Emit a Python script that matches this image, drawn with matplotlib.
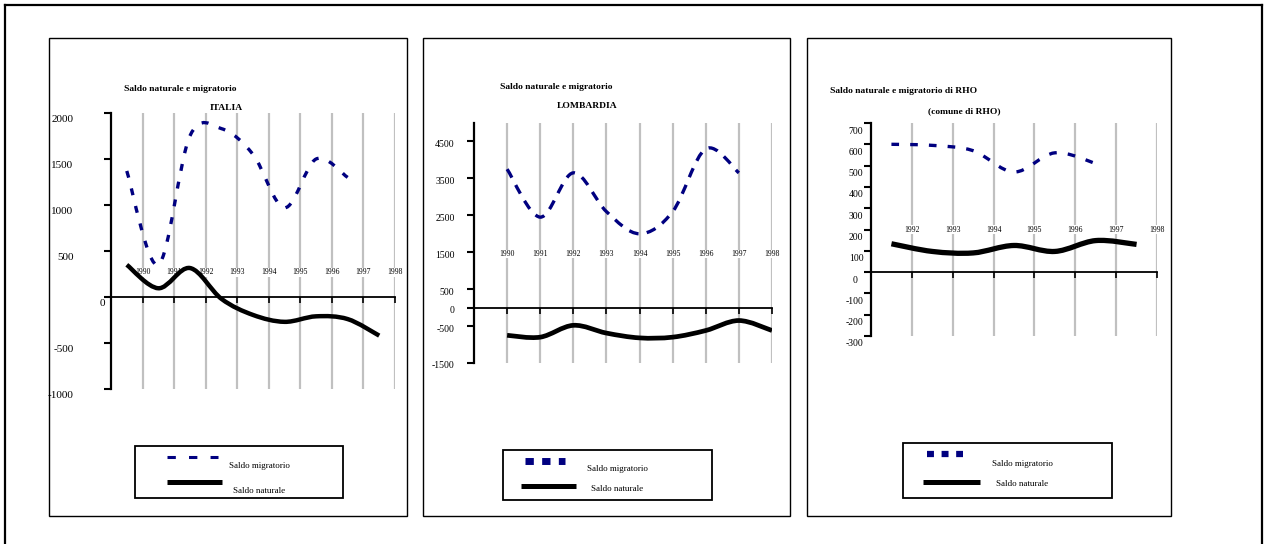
import matplotlib
matplotlib.use("Agg")
import matplotlib.pyplot as plt
import numpy as np
from matplotlib.lines import Line2D
from matplotlib.patches import PathPatch, Rectangle
from matplotlib.path import Path
from matplotlib.transforms import ScaledTranslation

plt.rcParams["font.family"] = ["Liberation Serif", "DejaVu Serif"]
plt.rcParams["lines.scale_dashes"] = False

W, H = 1265, 544
NAVY = "#000080"
GRID = "#c0c0c0"

# ITALIA
ITALIA_YEARS = ["1990", "1991", "1992", "1993", "1994", "1995", "1996", "1997", "1998"]
ITALIA_MIGR = [1370, 350, 1750, 1830, 1550, 970, 1500, 1300]
ITALIA_NAT = [350, 95, 315, -20, -195, -270, -210, -240, -420]
ITALIA_TICKS = [2000, 1500, 1000, 500, 0, -500, -1000]

# LOMBARDIA
LOMB_YEARS = ["1990", "1991", "1992", "1993", "1994", "1995", "1996", "1997", "1998"]
LOMB_MIGR = [3750, 2450, 3650, 2600, 2000, 2600, 4300, 3650]
LOMB_NAT = [-750, -800, -480, -690, -820, -800, -620, -350, -620]
LOMB_TICKS = [4500, 3500, 2500, 1500, 500, 0, -500, -1500]

# RHO
RHO_YEARS = ["1992", "1993", "1994", "1995", "1996", "1997", "1998"]
RHO_MIGR = [600, 595, 570, 470, 560, 510]
RHO_NAT = [133, 97, 90, 125, 97, 148, 130]
RHO_TICKS = [700, 600, 500, 400, 300, 200, 100, 0, -100, -200, -300]


def fx(px):
    return px / W


def fy(py):
    return 1 - py / H


def px_offset(fig, dx, dy):
    return ScaledTranslation(dx / 100, -dy / 100, fig.dpi_scale_trans)


def smooth_path(xs, ys):
    # Catmull-Rom style bezier through the points (Excel "smoothed line")
    pts = np.column_stack([xs, ys]).astype(float)
    verts = [pts[0]]
    codes = [Path.MOVETO]
    for i in range(len(pts) - 1):
        p0 = pts[max(i - 1, 0)]
        p1 = pts[i]
        p2 = pts[i + 1]
        p3 = pts[min(i + 2, len(pts) - 1)]
        verts += [p1 + (p2 - p0) / 6, p2 - (p3 - p1) / 6, p2]
        codes += [Path.CURVE4] * 3
    return Path(verts, codes)


def add_curve(ax, values, color, lw, dashes=None, zorder=4):
    xs = np.arange(len(values))
    patch = PathPatch(
        smooth_path(xs, values),
        facecolor="none",
        edgecolor=color,
        linewidth=lw,
        linestyle=(0, dashes) if dashes else "-",
        capstyle="butt",
        joinstyle="round",
        zorder=zorder,
    )
    ax.add_patch(patch)


def setup_axes(fig, box, xlim, ylim, grid_x, yticks, tick_size, label_pad, label_dy, zero_dx):
    left, top, right, bottom = box
    ax = fig.add_axes([fx(left), fy(bottom), fx(right - left), (bottom - top) / H])
    ax.set_xlim(*xlim)
    ax.set_ylim(*ylim)
    ax.patch.set_alpha(0)
    for side in ["top", "right"]:
        ax.spines[side].set_visible(False)
    ax.spines["bottom"].set_position(("data", 0))
    ax.spines["bottom"].set_linewidth(1.3)
    ax.spines["left"].set_linewidth(1.6)
    ax.vlines(grid_x, ylim[0], ylim[1], color=GRID, linewidth=1.6, zorder=1)
    ax.set_xticks(grid_x)
    ax.set_xticklabels([])
    ax.tick_params(axis="x", direction="out", length=4, width=1.2)
    ax.set_yticks(yticks)
    ax.set_yticklabels([str(v) for v in yticks])
    ax.tick_params(axis="y", direction="out", length=5, width=1.5,
                   pad=label_pad, labelsize=tick_size)
    for value, label in zip(yticks, ax.get_yticklabels()):
        dx = zero_dx if value == 0 else 0
        label.set_transform(label.get_transform() + px_offset(fig, dx, label_dy))
    return ax


def add_years(ax, positions, years, y):
    for x, year in zip(positions, years):
        ax.text(x, y, year, ha="center", va="center", fontsize=5.5, zorder=2,
                bbox=dict(facecolor="white", edgecolor="none", pad=0.3))


def add_panel(fig, box):
    left, top, right, bottom = box
    fig.add_artist(Rectangle((fx(left), fy(bottom)), fx(right - left), (bottom - top) / H,
                             transform=fig.transFigure, facecolor="none",
                             edgecolor="black", linewidth=1.0))


def add_title(fig, line1, x1, y1, line2, x2, y2):
    fig.text(fx(x1), fy(y1), line1, ha="center", va="center",
             fontsize=6.8, fontweight="bold")
    fig.text(fx(x2), fy(y2), line2, ha="center", va="center",
             fontsize=6.8, fontweight="bold")


def add_legend(fig, box, migr_line, nat_line, text_x, migr_y, nat_y, migr_style):
    left, top, right, bottom = box
    fig.add_artist(Rectangle((fx(left), fy(bottom)), fx(right - left), (bottom - top) / H,
                             transform=fig.transFigure, facecolor="white",
                             edgecolor="black", linewidth=1.3))
    (mx0, mx1, my), (nx0, nx1, ny) = migr_line, nat_line
    lw, dashes = migr_style
    fig.add_artist(Line2D([fx(mx0), fx(mx1)], [fy(my), fy(my)], transform=fig.transFigure,
                          color=NAVY, linewidth=lw, linestyle=(0, dashes),
                          dash_capstyle="butt"))
    fig.add_artist(Line2D([fx(nx0), fx(nx1)], [fy(ny), fy(ny)], transform=fig.transFigure,
                          color="black", linewidth=3.6, solid_capstyle="butt"))
    fig.text(fx(text_x), fy(migr_y), "Saldo migratorio", ha="center", va="center", fontsize=6.5)
    fig.text(fx(text_x), fy(nat_y), "Saldo naturale", ha="center", va="center", fontsize=6.5)


fig = plt.figure(figsize=(W / 100, H / 100), dpi=100)

# outer frame
for xs, ys in [((5, 1262), (5, 5)), ((5, 5), (5, 544)), ((1262, 1262), (5, 544))]:
    fig.add_artist(Line2D([fx(x) for x in xs], [fy(y) for y in ys],
                          transform=fig.transFigure, color="black", linewidth=1.6))

# ---- ITALIA ----
add_panel(fig, (49, 38, 407, 516))
n = len(ITALIA_YEARS)
grid = np.arange(n) + 0.5
ax = setup_axes(fig, (111, 113, 395, 389), (-0.5, n - 0.5), (-1000, 2000), grid,
                ITALIA_TICKS, 8, 22, 5, 32)
add_years(ax, grid, ITALIA_YEARS, 270)
add_curve(ax, ITALIA_MIGR, NAVY, 2.4, (5, 8))
add_curve(ax, ITALIA_NAT, "black", 3.2)
add_title(fig, "Saldo naturale e migratorio", 180, 89, "ITALIA", 226, 108)
add_legend(fig, (135, 446, 343, 498), (167, 218, 457), (167, 222, 482), 259, 466, 491,
           (2.2, (6, 9.5)))

# ---- LOMBARDIA ----
add_panel(fig, (423, 38, 790, 516))
n = len(LOMB_YEARS)
grid = np.arange(n)
ax = setup_axes(fig, (474, 123, 772, 363), (-1, n - 1), (-1500, 5000), grid,
                LOMB_TICKS, 7, 9, 2, 0)
add_years(ax, grid, LOMB_YEARS, 1450)
add_curve(ax, LOMB_MIGR, NAVY, 2.4, (7, 6))
add_curve(ax, LOMB_NAT, "black", 3.4)
add_title(fig, "Saldo naturale e migratorio", 556, 87, "LOMBARDIA", 587, 106)
add_legend(fig, (503, 450, 712, 500), (525, 565, 461), (521, 576, 486), 617, 469, 489,
           (5.0, (6, 6)))

# ---- RHO ----
add_panel(fig, (807, 38, 1171, 516))
n = len(RHO_YEARS)
grid = np.arange(n) + 0.5
ax = setup_axes(fig, (871, 123, 1157, 336), (-0.5, n - 0.5), (-300, 700), grid,
                RHO_TICKS, 7, 0.5, 7, -6)
add_years(ax, grid, RHO_YEARS, 200)
add_curve(ax, RHO_MIGR, NAVY, 2.4, (5.5, 8))
add_curve(ax, RHO_NAT, "black", 3.8)
add_title(fig, "Saldo naturale e migratorio di RHO", 904, 91, "(comune di RHO)", 964, 111)
add_legend(fig, (903, 443, 1112, 498), (927, 963, 454), (923, 980, 482), 1022, 464, 484,
           (4.5, (5, 5.5)))

fig.savefig("out.png", dpi=100)
